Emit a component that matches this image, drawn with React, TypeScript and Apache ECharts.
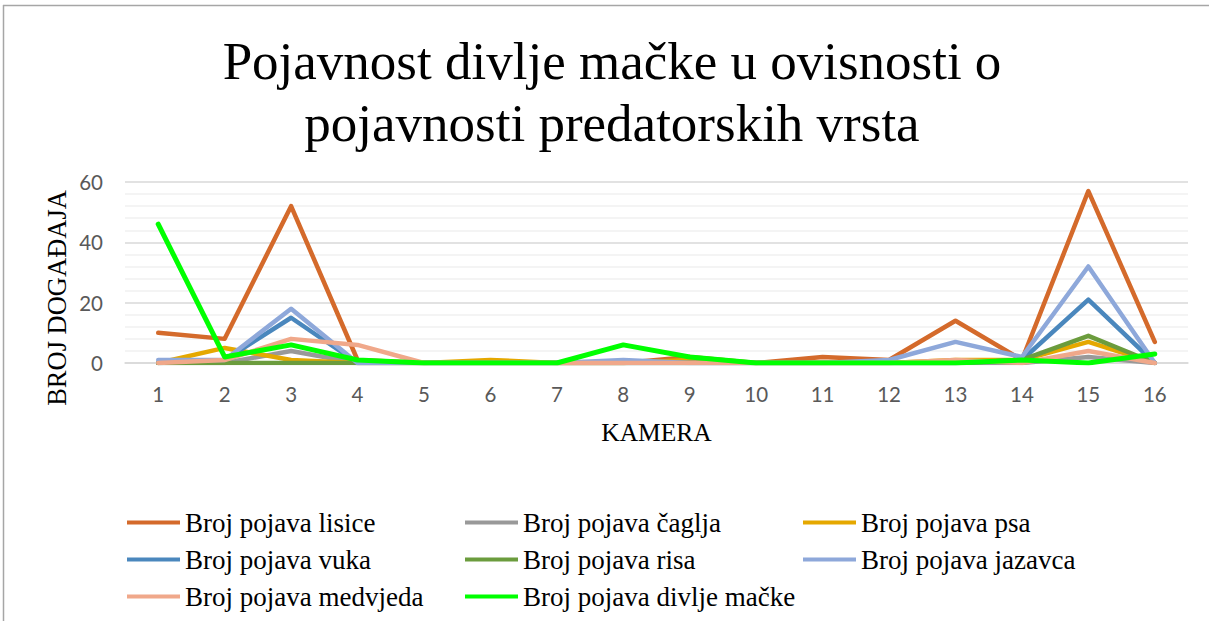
import React, { useEffect, useRef } from "react";
import * as echarts from "echarts";

const categories = ["1", "2", "3", "4", "5", "6", "7", "8", "9", "10", "11", "12", "13", "14", "15", "16"];

const lisice = [10, 8, 52, 1, 0, 0, 0, 0, 2, 0, 2, 1, 14, 1, 57, 7];
const caglja = [0, 0, 4, 0, 0, 0, 0, 0, 0, 0, 0, 0, 0, 0, 2, 0];
const psa = [0, 5, 1, 0, 0, 1, 0, 0, 1, 0, 0, 0, 1, 1, 7, 0];
const vuka = [0, 1, 15, 0, 0, 0, 0, 0, 0, 0, 0, 0, 0, 1, 21, 0];
const risa = [0, 0, 0, 0, 0, 0, 0, 0, 0, 0, 0, 0, 0, 1, 9, 0];
const jazavca = [1, 1, 18, 0, 0, 0, 0, 1, 0, 0, 0, 1, 7, 2, 32, 0];
const medvjeda = [0, 1, 8, 6, 0, 0, 0, 0, 0, 0, 0, 0, 1, 0, 4, 0];
const divljeMacke = [46, 2, 6, 1, 0, 0, 0, 6, 2, 0, 0, 0, 0, 1, 0, 3];

const seriesNames = [
  "Broj pojava lisice",
  "Broj pojava čaglja",
  "Broj pojava psa",
  "Broj pojava vuka",
  "Broj pojava risa",
  "Broj pojava jazavca",
  "Broj pojava medvjeda",
  "Broj pojava divlje mačke",
];
const seriesData = [lisice, caglja, psa, vuka, risa, jazavca, medvjeda, divljeMacke];
const seriesColors = ["#D46A2B", "#999999", "#E5A800", "#4A87BD", "#6B9C3D", "#8EA8DA", "#F0A88A", "#00FF00"];

const titleText = "Pojavnost divlje mačke u ovisnosti o\npojavnosti predatorskih vrsta";
const xAxisTitle = "KAMERA";
const yAxisTitle = "BROJ DOGAĐAJA";

const legendColumns = [
  [seriesNames[0], seriesNames[3], seriesNames[6]],
  [seriesNames[1], seriesNames[4], seriesNames[7]],
  [seriesNames[2], seriesNames[5]],
];

export default function App() {
  const ref = useRef<HTMLDivElement>(null);
  useEffect(() => {
    if (!ref.current) return;
    const chart = echarts.init(ref.current, null, { renderer: "svg" });
    const serif = "Liberation Serif";
    const sans = "Lato";
    chart.setOption({
      animation: false,
      backgroundColor: "#ffffff",
      title: {
        text: titleText,
        left: 612,
        top: 30,
        textAlign: "center",
        padding: 0,
        textStyle: { fontFamily: serif, fontSize: 53, lineHeight: 62, fontWeight: "normal", color: "#000000" },
      },
      legend: legendColumns.map((col, i) => ({
        data: col,
        orient: "vertical",
        left: 127 + i * 338,
        top: 509,
        padding: 0,
        itemGap: 10,
        itemWidth: 53,
        itemHeight: 4,
        icon: "rect",
        textStyle: { fontFamily: serif, fontSize: 27, lineHeight: 27, color: "#000000" },
      })),
      grid: { left: 125, right: 24, top: 182, bottom: 258, outerBoundsMode: "none" },
      xAxis: {
        type: "category",
        data: categories,
        boundaryGap: true,
        name: xAxisTitle,
        nameLocation: "middle",
        nameGap: 56,
        nameTextStyle: { fontFamily: serif, fontSize: 25.5, color: "#000000" },
        axisLine: { lineStyle: { color: "#D9D9D9", width: 1.5 } },
        axisTick: { show: false },
        axisLabel: { margin: 20, fontFamily: sans, fontSize: 20.5, color: "#595959" },
      },
      yAxis: {
        type: "value",
        min: 0,
        max: 60,
        interval: 20,
        axisLine: { show: false },
        axisTick: { show: false },
        axisLabel: { margin: 22, fontFamily: sans, fontSize: 20.5, color: "#595959" },
        splitLine: { lineStyle: { color: "#D9D9D9", width: 1.5 } },
        minorTick: { show: false, splitNumber: 5 },
        minorSplitLine: { show: true, lineStyle: { color: "#F0F0F0", width: 1.5 } },
      },
      graphic: [
        {
          type: "text",
          x: 57,
          y: 298,
          rotation: Math.PI / 2,
          style: {
            text: yAxisTitle,
            fontFamily: serif,
            fontSize: 26.5,
            fill: "#000000",
            align: "center",
            verticalAlign: "middle",
          },
        },
        { type: "line", shape: { x1: 3.5, y1: 5, x2: 3.5, y2: 621 }, style: { stroke: "#A6A6A6", lineWidth: 1.5 } },
        { type: "line", shape: { x1: 3, y1: 5.5, x2: 1209, y2: 5.5 }, style: { stroke: "#A6A6A6", lineWidth: 1.5 } },
      ],
      series: seriesNames.map((name, i) => ({
        name,
        type: "line",
        data: seriesData[i],
        showSymbol: false,
        symbol: "none",
        color: seriesColors[i],
        lineStyle: { width: i === 7 ? 5 : 4.5, color: seriesColors[i], cap: "round", join: "round" },
      })),
    });
    return () => chart.dispose();
  }, []);
  return (
    <div
      ref={ref}
      style={{ position: "absolute", left: 0, top: 0, width: 1212, height: 621 }}
    />
  );
}
